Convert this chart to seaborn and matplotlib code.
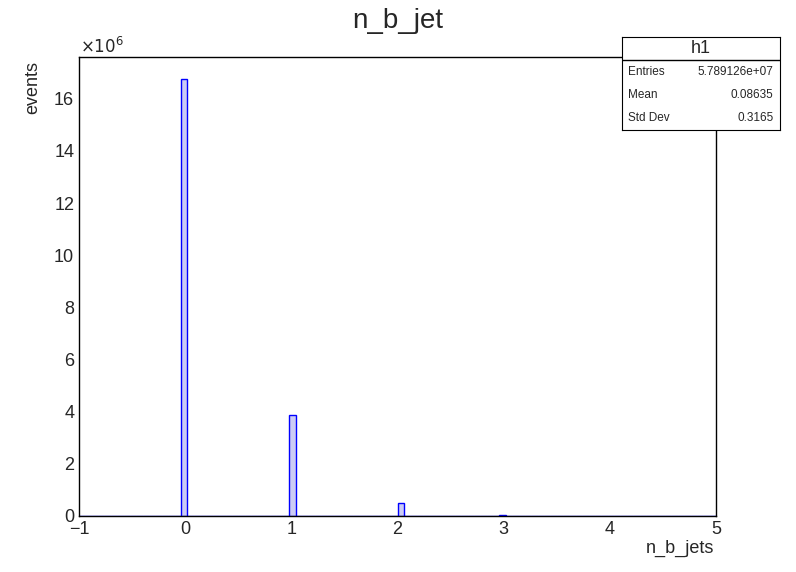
import numpy as np
import pandas as pd
import matplotlib
matplotlib.use("Agg")
import matplotlib.pyplot as plt
import seaborn as sns
from matplotlib.ticker import MultipleLocator

# bin centres (100 bins from -1 to 5) and counts
n_b_jets = [-0.01, 1.01, 2.03, 2.99]
events = [16.75e6, 3.88e6, 0.50e6, 0.03e6]

stats_labels = ["Entries", "Mean", "Std Dev"]
stats_values = ["5.789126e+07", "0.08635", "0.3165"]

df = pd.DataFrame({"n_b_jets": n_b_jets, "events": events})

sns.set_style("white")
plt.rcParams['font.family'] = ['Liberation Sans', 'DejaVu Sans']

fig = plt.figure(figsize=(7.96, 5.72), dpi=100)
ax = fig.add_axes([79/796, 1-516/572, (716-79)/796, (516-57)/572])
sns.histplot(df, x="n_b_jets", weights="events", binwidth=0.06, binrange=(-1, 5), ax=ax,
             color="#ccccf5", edgecolor="blue", linewidth=1, alpha=1)
ax.set_xlim(-1, 5)
ax.set_ylim(0, 17.6e6)
ax.xaxis.set_major_locator(MultipleLocator(1))
ax.xaxis.set_minor_locator(MultipleLocator(0.2))
ax.yaxis.set_minor_locator(MultipleLocator(0.4e6))
ax.set_yticks(np.arange(0, 17e6, 2e6))
ax.set_yticklabels([str(int(v)) for v in np.arange(0, 17, 2)])
ax.tick_params(which="both", direction="in", top=False, right=False, labelsize=13, color="black")
ax.tick_params(which="major", length=12)
ax.tick_params(which="minor", length=6)
for s in ax.spines.values():
    s.set_color("black")
    s.set_linewidth(1)
ax.set_xlabel("")
ax.set_ylabel("")
fig.text(714/796, 1-548/572, "n_b_jets", ha="right", va="center", fontsize=13)
fig.text(33/796, 1-88/572, "events", rotation=90, ha="center", va="center", fontsize=13)
fig.text(80/796, 1-46/572, r"$\times10^{6}$", ha="left", va="center", fontsize=12)
fig.text(398/796, 1-21/572, "n_b_jet", ha="center", va="center", fontsize=20)

# stats box
bx0, bx1, by0, by1 = 622/796, 780/796, 1-37/572, 1-130/572
box = fig.add_axes([bx0, by1, bx1-bx0, by0-by1])
box.set_xticks([]); box.set_yticks([])
box.set_xlim(0, 1); box.set_ylim(0, 1)
hdr = 1 - 23/93
box.axhline(hdr, color="black", lw=1)
box.text(0.5, (1+hdr)/2, "h1", ha="center", va="center", fontsize=13)
for i, (lab, val) in enumerate(zip(stats_labels, stats_values)):
    y = hdr - (i + 0.5) * hdr / 3
    box.text(0.04, y, lab, ha="left", va="center", fontsize=8.5)
    box.text(0.96, y, val, ha="right", va="center", fontsize=8.5)
for s in box.spines.values():
    s.set_color("black")

fig.savefig("out.png", dpi=100)
